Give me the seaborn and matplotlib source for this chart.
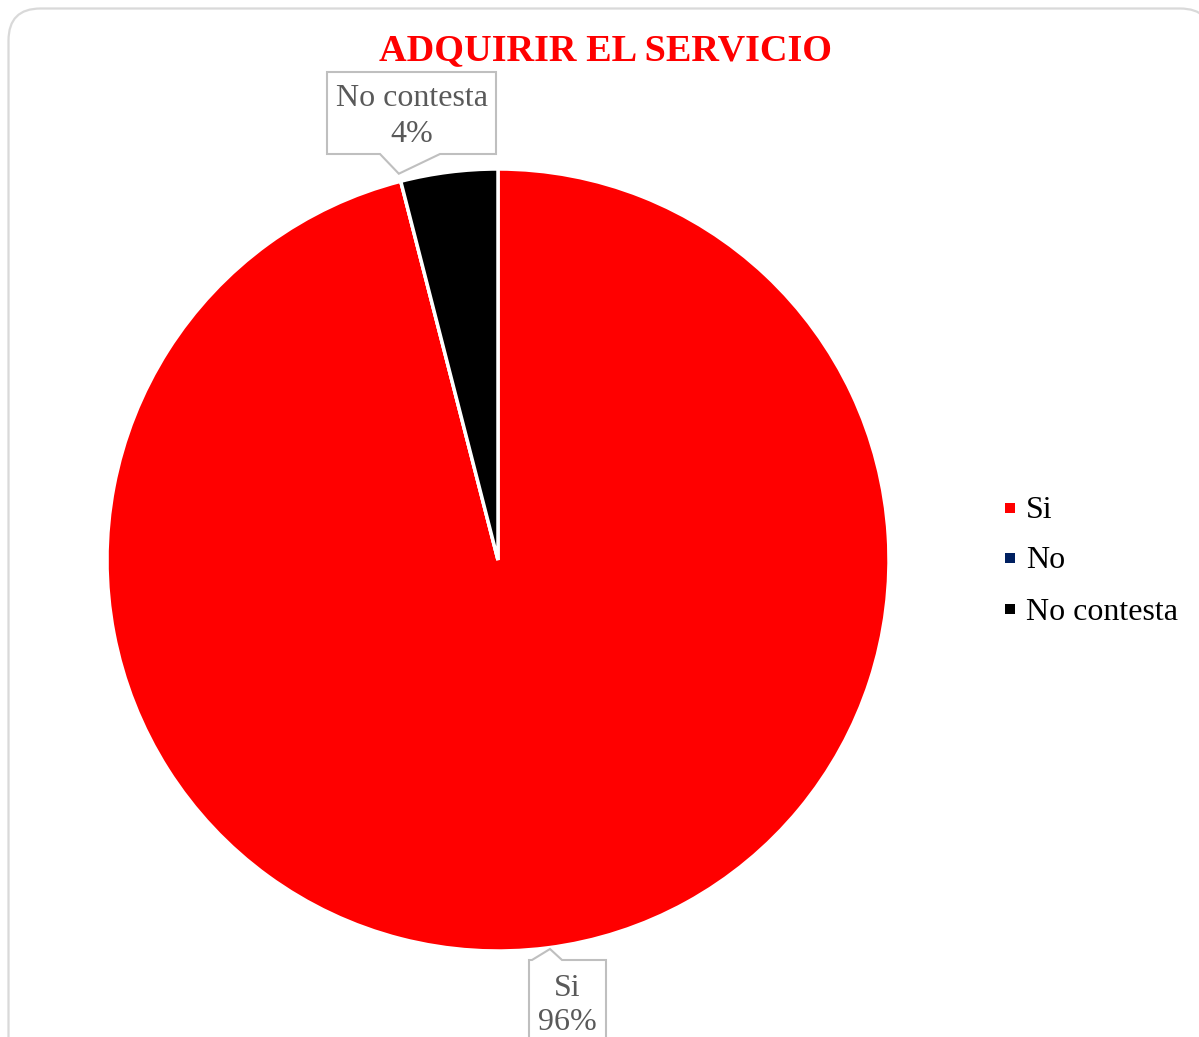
import matplotlib
matplotlib.use("Agg")
import matplotlib.pyplot as plt
from matplotlib.patches import PathPatch, Polygon, Rectangle
from matplotlib.path import Path
from matplotlib.transforms import IdentityTransform
import numpy as np
import seaborn as sns

# Survey answers: would the respondent buy the service?
categories = ["Si", "No", "No contesta"]
percentages = [96, 0, 4]
colors = ["#FF0000", "#002060", "#000000"]
title = "ADQUIRIR EL SERVICIO"

sns.set_theme(style="white")
plt.rcParams["font.family"] = ["Liberation Serif", "DejaVu Serif"]

W, H = 1199, 1037
fig = plt.figure(figsize=(W / 100, H / 100), dpi=100)

# Rounded outer frame in pixel units (open path: left side, top, right corner)
fl, fr, ft, rad = 8.5, 1212, H - 8.5, 32
frame_path = Path(
    [(fl, 0), (fl, ft - rad), (fl, ft), (fl + rad, ft),
     (fr - rad, ft), (fr, ft), (fr, ft - rad)],
    [Path.MOVETO, Path.LINETO, Path.CURVE3, Path.CURVE3,
     Path.LINETO, Path.CURVE3, Path.CURVE3])
fig.patches.append(PathPatch(frame_path, transform=IdentityTransform(),
                             facecolor="none", edgecolor="#D9D9D9",
                             linewidth=1.6, zorder=-5))

# Pie axes (square in pixels)
cx, cy, r = 498, 560, 391
ax = fig.add_axes([(cx - r) / W, (H - cy - r) / H, 2 * r / W, 2 * r / H])
ax.patch.set_alpha(0)

wedges, _ = ax.pie(percentages, colors=colors, startangle=90, counterclock=False,
                   radius=1.0, wedgeprops=dict(edgecolor="white", linewidth=2.5))
ax.set_xlim(-1, 1)
ax.set_ylim(-1, 1)
ax.set_aspect("auto")
ax.axis("off")

fig.text(606 / W, 1 - 51 / H, title, color="#FF0000", fontsize=27.5,
         fontweight="bold", ha="center", va="center")

label_color = "#595959"
box_edge = "#BFBFBF"
fs = 23.0


def callout(x0, x1, y0, y1, tip, base, lines, text_y):
    """Rectangle callout in axes data units with a pointer to `tip`."""
    (bx0, bx1), by = base
    if by == y0:  # pointer from bottom edge
        pts = [(x0, y1), (x1, y1), (x1, y0), (bx1, y0), tip, (bx0, y0), (x0, y0)]
    else:  # pointer from top edge
        pts = [(x0, y1), (bx0, y1), tip, (bx1, y1), (x1, y1), (x1, y0), (x0, y0)]
    poly = Polygon(pts, closed=True, facecolor="white", edgecolor=box_edge,
                   linewidth=1.5, clip_on=False, zorder=5)
    ax.add_patch(poly)
    xm = (x0 + x1) / 2
    for txt, ty in zip(lines, text_y):
        ax.text(xm, ty, txt, ha="center", va="center", fontsize=fs,
                color=label_color, zorder=6, clip_on=False)


def to_ax(px, py):
    return (px - cx) / r, (cy - py) / r


# Data labels derived from the wedge values
total = sum(percentages)
starts = 90 - 360 * np.cumsum([0] + percentages[:-1]) / total

# "No contesta" label above the pie
ang = np.deg2rad(starts[2])
tip_nc = (np.cos(ang) * 1.02, np.sin(ang) * 1.02)
x0, y1 = to_ax(327, 72)
x1, y0 = to_ax(496, 154)
bxa, _ = to_ax(380, 0)
bxb, _ = to_ax(440, 0)
callout(x0, x1, y0, y1, tip_nc, ((bxa, bxb), y0),
        [categories[2], f"{percentages[2]}%"],
        [to_ax(0, 99)[1], to_ax(0, 134)[1]])

# "Si" label below the pie
x0, y1 = to_ax(529, 960)
x1, y0 = to_ax(606, 1080)
bxa, _ = to_ax(532, 0)
bxb, _ = to_ax(562, 0)
tip_si = to_ax(550, 949)
callout(x0, x1, y0, y1, tip_si, ((bxa, bxb), y1),
        [categories[0], f"{percentages[0]}%"],
        [to_ax(0, 988)[1], to_ax(0, 1023)[1]])

# Legend
rows = [508, 558, 609]
for cat, col, ry in zip(categories, colors, rows):
    fig.patches.append(Rectangle((1005 / W, 1 - (ry + 5) / H), 10 / W, 10 / H,
                                 transform=fig.transFigure, facecolor=col,
                                 edgecolor="none"))
    fig.text(1026 / W, 1 - (ry + 3) / H, cat, fontsize=fs, color="black",
             ha="left", va="center")

fig.savefig("out.png", dpi=100, facecolor="white")
